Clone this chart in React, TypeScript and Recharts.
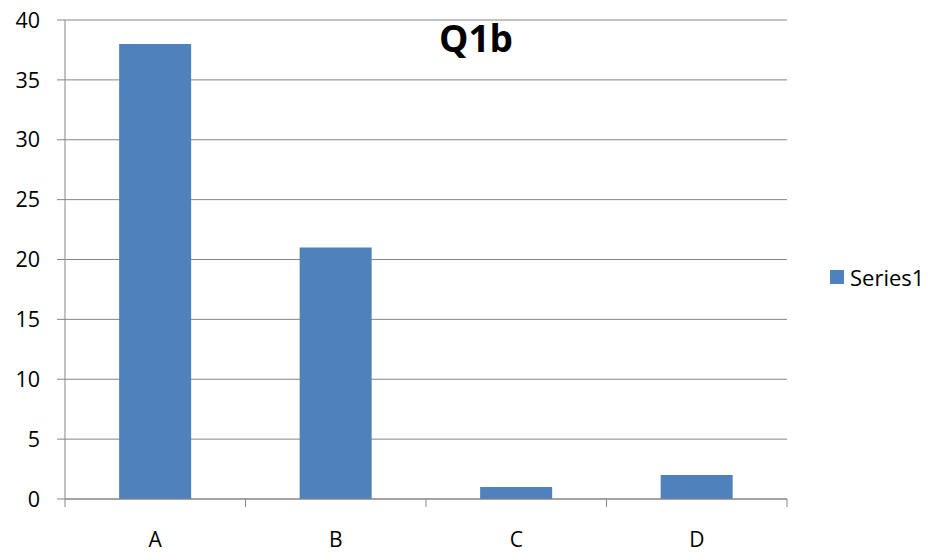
import React from 'react';
import { BarChart, Bar, XAxis, YAxis, CartesianGrid, Legend } from 'recharts';

// Answer counts for question 1b
const categories = ['A', 'B', 'C', 'D'];
const series1 = [38, 21, 1, 2];
const yTicks = [0, 5, 10, 15, 20, 25, 30, 35, 40];

const data = categories.map((name, i) => ({ name, Series1: series1[i] }));

const W = 932;
const H = 553;
const AXIS = '#868686';
const BAR = '#4F81BD';
const FONT = '"Open Sans", "Noto Sans", sans-serif';
const LEGEND_W = 102;

// Category label with tick marks placed on the band boundaries
const CategoryTick = (props: any) => {
  const { x, y, payload, index, visibleTicksCount } = props;
  const half = payload && typeof payload.offset === 'number' ? payload.offset : 90.25;
  const last = index === visibleTicksCount - 1;
  return (
    <g>
      <line x1={x - half} x2={x - half} y1={y} y2={y + 8} stroke={AXIS} strokeWidth={1} />
      {last && <line x1={x + half} x2={x + half} y1={y} y2={y + 8} stroke={AXIS} strokeWidth={1} />}
      <text x={x} y={y + 48} textAnchor="middle" fill="#000" fontSize={21} fontFamily={FONT}>
        {payload.value}
      </text>
    </g>
  );
};

const LegendContent = () => (
  <div style={{ display: 'flex', alignItems: 'center', fontFamily: FONT, fontSize: 22, color: '#000' }}>
    <span style={{ display: 'inline-block', width: 14, height: 14, background: BAR, marginRight: 6 }} />
    <span>Series1</span>
  </div>
);

export default function App() {
  return (
    <div style={{ position: 'absolute', left: 0, top: 0, width: W, height: H, background: '#fff' }}>
      <BarChart
        width={W}
        height={H}
        data={data}
        margin={{ top: 20, right: 145 - LEGEND_W, bottom: 0, left: 0 }}
        barCategoryGap="30%"
      >
        <CartesianGrid vertical={false} stroke={AXIS} strokeWidth={1} />
        <XAxis
          dataKey="name"
          height={54}
          stroke={AXIS}
          tickLine={false}
          tickSize={0}
          tickMargin={0}
          tick={<CategoryTick />}
          interval={0}
        />
        <YAxis
          width={65}
          domain={[0, 40]}
          ticks={yTicks}
          stroke={AXIS}
          tickSize={8}
          tickMargin={17}
          tick={{ fill: '#000', fontSize: 21.5, fontFamily: FONT }}
          interval={0}
        />
        <Legend
          layout="vertical"
          align="right"
          verticalAlign="middle"
          content={<LegendContent />}
          wrapperStyle={{ left: 830, top: 262, width: LEGEND_W, right: 'auto' }}
        />
        <Bar dataKey="Series1" fill={BAR} isAnimationActive={false} />
      </BarChart>
      <svg width={W} height={H} style={{ position: 'absolute', left: 0, top: 0, pointerEvents: 'none' }}>
        <text x={476} y={52} textAnchor="middle" fontFamily={FONT} fontWeight={700} fontSize={37} fill="#000">
          Q1b
        </text>
      </svg>
    </div>
  );
}
